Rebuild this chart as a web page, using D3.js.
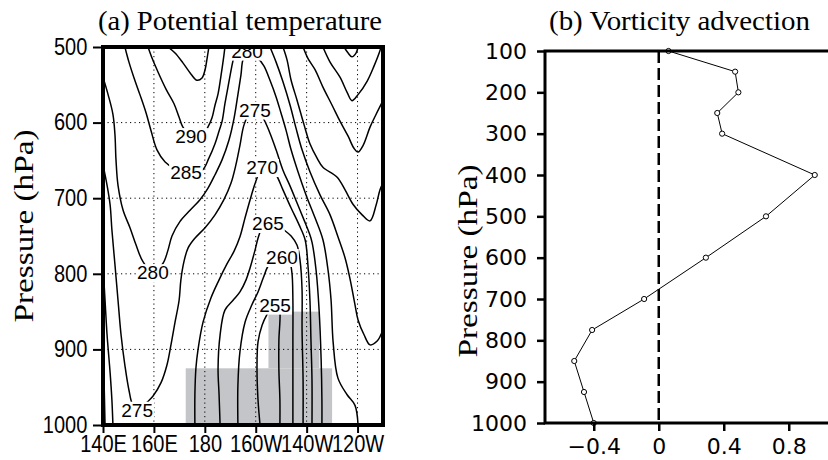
<!DOCTYPE html>
<html><head><meta charset="utf-8">
<script src="https://cdn.jsdelivr.net/npm/d3@7"></script>
<style>body{margin:0;background:#fff;} svg{display:block;}</style>
</head><body>
<svg id="chart" width="828" height="460"></svg>
<script>
// ---------------- Panel (a): potential temperature cross-section ----------------
// longitude in degrees east (0-360), pressure in hPa
const lonTicks = [140, 160, 180, 200, 220, 240];
const lonTickLabels = ["140E", "160E", "180", "160W", "140W", "120W"];
const presTicksA = [500, 600, 700, 800, 900, 1000];

// contour polylines [lon, hPa]
const theta255 = [[201.7,1000],[200.9,967],[200.5,925],[200.9,890],[202.5,868],[204.4,854],[206.4,844],[208.8,843],[209.5,851],[209.1,888],[209.1,927],[209.5,967],[209.5,1000]];
const theta260 = [[193,1000],[193,947],[193.8,903],[195.8,864],[198.5,841],[200.9,824],[202.9,806],[204.8,790],[207.6,779],[210.3,776],[213.1,782],[214.2,798],[214.6,835],[214.6,888],[214.6,940],[214.6,1000]];
const theta265 = [[186,1000],[185.6,960],[185.2,925],[186,881],[187.9,848],[191.1,835],[193.8,824],[196.2,808],[197.8,792],[199.7,769],[200.9,753],[202.5,739],[204.8,731],[207.6,733],[210.7,741],[213.9,750],[216.2,762],[217.4,782],[218.2,821],[218.2,874],[218.6,940],[218.6,1000]];
const theta265West = [[140,894],[140.4,940],[140.8,1000]];
const theta270 = [[176.1,1000],[176.1,960],[176.5,925],[177.3,901],[179.3,864],[182.4,832],[185.6,808],[188.7,787],[191.5,770],[193.8,751],[195.8,726],[197.8,702],[199.7,681],[201.3,667],[203.2,659],[205.6,660],[208,669],[210.7,689],[213.9,713],[217,735],[219.4,755],[220.5,788],[221.3,835],[221.7,888],[222.1,940],[222.1,1000]];
const theta270West = [[140,788],[140.8,835],[141.6,881],[142.8,931],[143.5,967],[143.9,1000]];
const theta275 = [[140,656],[141.6,683],[142.8,709],[143.5,742],[144.7,788],[145.9,835],[147.1,881],[148.6,921],[150.2,954],[151.8,974],[154.5,980],[157.3,970],[159.6,962],[162.8,944],[165.1,921],[166.7,894],[168.3,864],[169.9,835],[170.6,808],[171.8,784],[173.4,766],[176.1,753],[180.1,739],[184,722],[187.5,702],[190.3,680],[192.2,656],[193.8,630],[195.4,603],[197.8,586],[200.1,583],[202.9,594],[205.6,614],[208,636],[210.7,663],[213.5,684],[216.2,706],[219,729],[220.9,745],[222.1,758],[223.7,795],[224.9,848],[225.7,914],[226,967],[226,1000]];
const theta280 = [[140,540],[142,563],[143.9,589],[144.7,616],[145.1,649],[145.9,683],[147.9,716],[150.6,739],[153,762],[155.7,784],[159.6,798],[163.6,786],[165.5,769],[167.1,750],[170.2,731],[174.2,716],[178.1,702],[181.2,687],[184,669],[186.8,649],[189.5,623],[191.5,594],[193,563],[194.2,537],[195,517],[196.6,509],[198.9,511],[200.9,515],[203.2,525],[205.6,544],[208,566],[209.9,587],[211.9,610],[213.9,636],[216.6,665],[219.8,696],[223.3,726],[226.4,755],[228.4,795],[229.6,835],[230.4,890],[232.3,938],[235.9,960],[239,974],[240.2,1000]];
const theta285West = [[148.6,500],[150.2,520],[152.2,541],[154.5,563],[156.9,587],[158.9,611],[161.2,636],[164.4,652],[168.3,661],[172.6,665],[178.9,663],[181.6,647],[184,628],[185.6,611],[186.8,598],[187.9,575],[189.1,553],[190.7,524],[191.9,505],[192.2,500]];
const theta285East = [[205.6,500],[208,520],[210.7,546],[213.5,577],[215.8,607],[218.2,636],[221.3,665],[225.3,696],[229.2,722],[232.3,751],[235.1,779],[237,806],[239,841],[240.2,861],[242.6,881],[244.9,894],[247.7,889],[250,874]];
const theta290West = [[157.7,500],[159.3,515],[161.6,533],[164.8,556],[167.9,575],[169.9,593],[171.4,606],[174.6,618],[179.3,615],[181.2,606],[182.8,594],[184,577],[185.2,562],[186.4,537],[187.5,511],[187.9,500]];
const theta290East = [[210.7,500],[212.3,517],[213.9,544],[216.2,570],[219,603],[221.3,628],[224.1,647],[226.4,659],[231.9,672],[235.1,689],[238.2,708],[241.8,722],[244.9,730],[247.3,709],[248.8,689],[250,680]];
const theta295West = [[165.5,500],[168.3,508],[171.4,521],[174.6,536],[176.9,544],[178.9,541],[180.1,530],[180.9,515],[181.6,500]];
const theta295East = [[218.6,500],[220.5,515],[223.3,530],[226.4,553],[230,577],[233.1,598],[236.3,618],[238.6,634],[240.2,639],[242.2,630],[244.9,606],[247.3,589],[250,571]];
const theta300East = [[226.4,500],[229.2,520],[233.1,540],[235.9,560],[237.8,571],[240.2,563],[243.8,545],[246.5,525],[248.8,505],[249.2,500]];
const theta305East = [[234.7,500],[236.3,508],[237.8,513],[239.4,508],[240.2,500]];

const contourLines = [theta255, theta260, theta265, theta265West, theta270, theta270West, theta275, theta280,
  theta285West, theta285East, theta290West, theta290East, theta295West, theta295East, theta300East, theta305East];

// contour labels: value, lon, hPa
const labelValues = [280, 290, 285, 275, 270, 265, 260, 280, 255, 275];
const labelLon    = [196.6, 174.6, 172.6, 199.7, 202.5, 204.8, 210.3, 159.6, 207.6, 153.4];
const labelPres   = [505, 618, 665, 583, 659, 733, 778, 798, 841, 980];

// shaded boxes: lon west, lon east, top hPa, bottom hPa
const shadeLonW = [172.5, 205];
const shadeLonE = [230, 225];
const shadeTop  = [925, 850];
const shadeBot  = [1000, 925];

// ---------------- Panel (b): vorticity advection profile ----------------
const presB = [100, 150, 200, 250, 300, 400, 500, 600, 700, 775, 850, 925, 1000];
const advection = [0.06, 0.47, 0.49, 0.36, 0.39, 0.96, 0.66, 0.29, -0.09, -0.41, -0.52, -0.46, -0.40];
const presTicksB = [100, 200, 300, 400, 500, 600, 700, 800, 900, 1000];
const advTicks = [-0.4, 0, 0.4, 0.8];
const advTickLabels = ["\u22120.4", "0", "0.4", "0.8"];

// ======================================================================
const svg = d3.select("#chart");
const serif = "'Liberation Serif','Times New Roman',Times,serif";
const sans = "'Liberation Sans',Arial,Helvetica,sans-serif";
const intFmt = d3.format("d");

// ---- Panel (a)
const xA = d3.scaleLinear().domain([140, 250]).range([103, 383]);
const yA = d3.scaleLinear().domain([500, 1000]).range([47, 425]);

svg.append("defs").append("clipPath").attr("id", "clipA")
  .append("rect").attr("x", xA(140)).attr("y", yA(500))
  .attr("width", xA(250) - xA(140)).attr("height", yA(1000) - yA(500));

const gA = svg.append("g");
const plotA = gA.append("g").attr("clip-path", "url(#clipA)");

// shading
plotA.selectAll("rect.shade").data(shadeLonW).join("rect").attr("class", "shade")
  .attr("x", (d, i) => xA(d)).attr("y", (d, i) => yA(shadeTop[i]))
  .attr("width", (d, i) => xA(shadeLonE[i]) - xA(d))
  .attr("height", (d, i) => yA(shadeBot[i]) - yA(shadeTop[i]))
  .attr("fill", "#c3c5c8");

// grid
plotA.selectAll("line.vg").data(lonTicks.slice(1)).join("line")
  .attr("x1", d => xA(d)).attr("x2", d => xA(d)).attr("y1", yA(500)).attr("y2", yA(1000))
  .attr("stroke", "#000").attr("stroke-width", 1).attr("stroke-dasharray", "1.2,3.3");
plotA.selectAll("line.hg").data(presTicksA.slice(1, -1)).join("line")
  .attr("y1", d => yA(d)).attr("y2", d => yA(d)).attr("x1", xA(140)).attr("x2", xA(250))
  .attr("stroke", "#000").attr("stroke-width", 1).attr("stroke-dasharray", "1.2,3.3");

// contours
const cline = d3.line().x(d => xA(d[0])).y(d => yA(d[1])).curve(d3.curveCatmullRom.alpha(0.5));
plotA.selectAll("path.ct").data(contourLines).join("path")
  .attr("d", cline).attr("fill", "none").attr("stroke", "#000").attr("stroke-width", 1.5)
  .attr("stroke-linejoin", "round");

// labels
labelValues.forEach((v, i) => {
  const g = plotA.append("g").attr("transform", `translate(${xA(labelLon[i])},${yA(labelPres[i])})`);
  const r = g.append("rect").attr("fill", "#fff");
  const t = g.append("text").attr("text-anchor", "middle").attr("dy", "0.36em")
    .attr("font-family", sans).attr("font-size", 19).attr("fill", "#000").text(v);
  const bb = t.node().getBBox();
  r.attr("x", bb.x - 1).attr("y", bb.y + 2).attr("width", bb.width + 2).attr("height", bb.height - 3);
});

// frame
gA.append("rect").attr("x", xA(140)).attr("y", yA(500))
  .attr("width", xA(250) - xA(140)).attr("height", yA(1000) - yA(500))
  .attr("fill", "none").attr("stroke", "#000").attr("stroke-width", 4);

// axes a
const axLeftA = d3.axisLeft(yA).tickValues(presTicksA).tickFormat(intFmt)
  .tickSize(10).tickPadding(8).tickSizeOuter(0);
const gyA = gA.append("g").attr("transform", `translate(${xA(140)},0)`).call(axLeftA);
gyA.select(".domain").remove();
gyA.selectAll(".tick line").attr("stroke-width", 2);
gyA.selectAll(".tick text").attr("font-family", sans).attr("font-size", 23).attr("fill", "#000")
  .attr("transform", "scale(0.87,1)");

const axBotA = d3.axisBottom(xA).tickValues(lonTicks).tickFormat((d, i) => lonTickLabels[i])
  .tickSize(8).tickPadding(3).tickSizeOuter(0);
const gxA = gA.append("g").attr("transform", `translate(0,${yA(1000)})`).call(axBotA);
gxA.select(".domain").remove();
gxA.selectAll(".tick line").attr("stroke-width", 2);
gxA.selectAll(".tick text").attr("font-family", sans).attr("font-size", 23).attr("fill", "#000")
  .attr("transform", "scale(0.87,1)");

// titles / labels a
svg.append("text").attr("x", 98).attr("y", 30).attr("font-family", serif).attr("font-size", 27)
  .attr("textLength", 284).attr("lengthAdjust", "spacingAndGlyphs").text("(a) Potential temperature");
svg.append("text").attr("transform", "translate(33,226) rotate(-90)").attr("text-anchor", "middle")
  .attr("font-family", serif).attr("font-size", 28)
  .attr("textLength", 193).attr("lengthAdjust", "spacingAndGlyphs").text("Pressure (hPa)");

// ---- Panel (b)
const xB = d3.scaleLinear().domain([-0.7, 1.1]).range([545, 837.5]);
const yB = d3.scaleLinear().domain([100, 1000]).range([51, 423]);
const gB = svg.append("g");

// zero line
gB.append("line").attr("x1", xB(0)).attr("x2", xB(0)).attr("y1", yB(100)).attr("y2", yB(1000))
  .attr("stroke", "#000").attr("stroke-width", 2.5).attr("stroke-dasharray", "12,5");

// profile
gB.append("path").datum(presB.map((p, i) => [advection[i], p]))
  .attr("d", d3.line().x(d => xB(d[0])).y(d => yB(d[1])))
  .attr("fill", "none").attr("stroke", "#000").attr("stroke-width", 1);
gB.selectAll("circle.pt").data(presB).join("circle")
  .attr("cx", (d, i) => xB(advection[i])).attr("cy", d => yB(d)).attr("r", 2.6)
  .attr("fill", "#fff").attr("stroke", "#000").attr("stroke-width", 1);

// frame lines
gB.append("rect").attr("x", xB(-0.7)).attr("y", yB(100))
  .attr("width", xB(1.1) - xB(-0.7)).attr("height", yB(1000) - yB(100))
  .attr("fill", "none").attr("stroke", "#000").attr("stroke-width", 3);

const sansB = "'DejaVu Sans',Verdana,sans-serif";
const axLeftB = d3.axisLeft(yB).tickValues(presTicksB).tickFormat(intFmt)
  .tickSize(8).tickPadding(10).tickSizeOuter(0);
const gyB = gB.append("g").attr("transform", `translate(${xB(-0.7)},0)`).call(axLeftB);
gyB.select(".domain").remove();
gyB.selectAll(".tick line").attr("stroke-width", 2.5);
gyB.selectAll(".tick text").attr("font-family", sansB).attr("font-size", 22).attr("fill", "#000");

const axBotB = d3.axisBottom(xB).tickValues(advTicks).tickFormat((d, i) => advTickLabels[i])
  .tickSize(8).tickPadding(7.4).tickSizeOuter(0);
const gxB = gB.append("g").attr("transform", `translate(0,${yB(1000)})`).call(axBotB);
gxB.select(".domain").remove();
gxB.selectAll(".tick line").attr("stroke-width", 2.5);
gxB.selectAll(".tick text").attr("font-family", sansB).attr("font-size", 22).attr("fill", "#000");

svg.append("text").attr("x", 549).attr("y", 30).attr("font-family", serif).attr("font-size", 27)
  .attr("textLength", 261).attr("lengthAdjust", "spacingAndGlyphs").text("(b) Vorticity advection");
svg.append("text").attr("transform", "translate(477,261) rotate(-90)").attr("text-anchor", "middle")
  .attr("font-family", serif).attr("font-size", 28)
  .attr("textLength", 193).attr("lengthAdjust", "spacingAndGlyphs").text("Pressure (hPa)");
</script>
</body></html>
